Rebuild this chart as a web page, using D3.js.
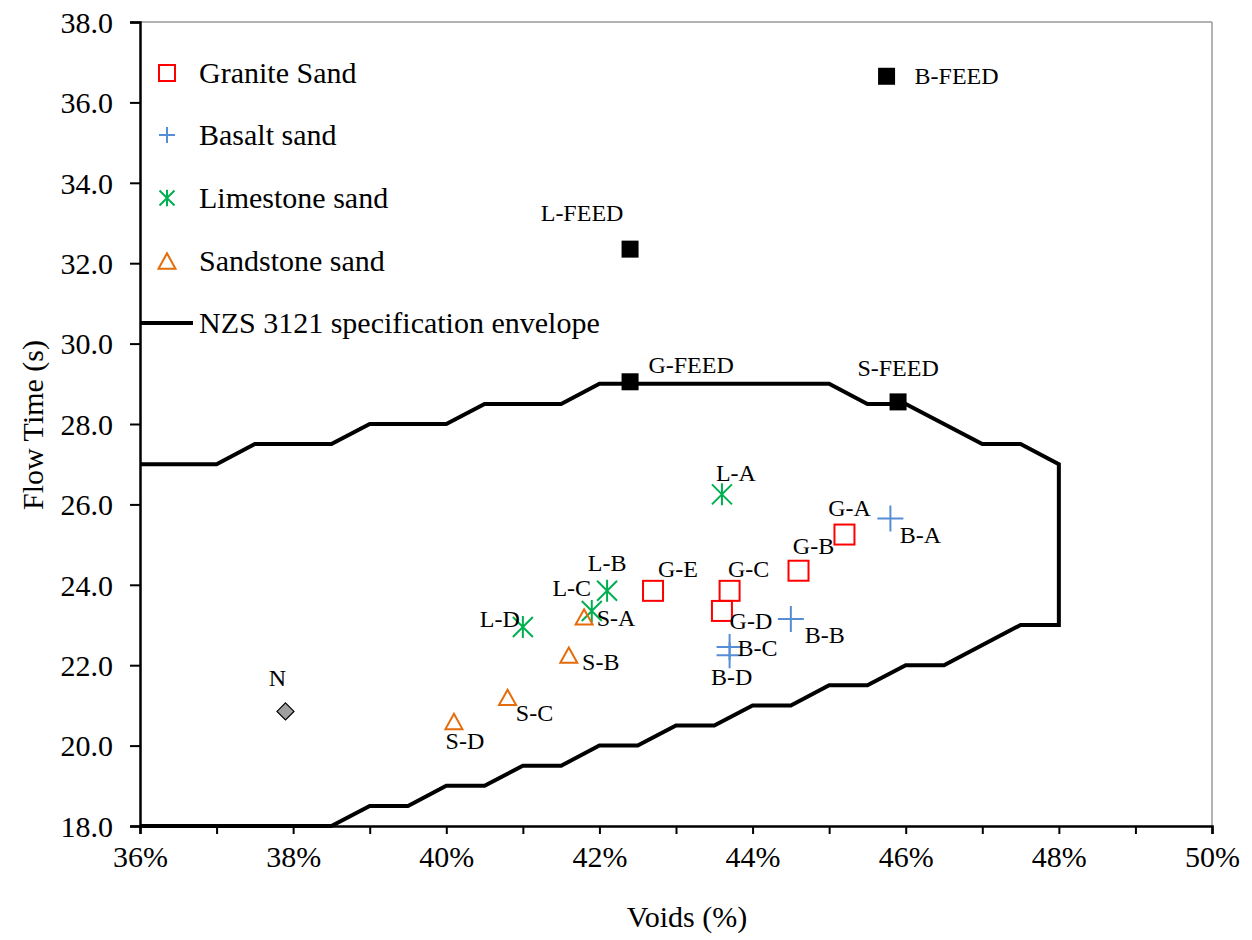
<!DOCTYPE html>
<html>
<head>
<meta charset="utf-8">
<title>Flow time vs voids</title>
<script src="https://cdnjs.cloudflare.com/ajax/libs/d3/7.8.5/d3.min.js"></script>
<style>
  body { margin: 0; background: #fff; }
  text { font-family: "Liberation Serif", "Times New Roman", serif; fill: #000; }
</style>
</head>
<body>
<div id="chart"></div>
<script>
// --- data ---
var graniteNames = ["G-A", "G-B", "G-C", "G-D", "G-E"];
var graniteVoids = [45.2, 44.6, 43.7, 43.6, 42.7];
var graniteFlow  = [25.25, 24.35, 23.85, 23.35, 23.85];

var basaltNames = ["B-A", "B-B", "B-C", "B-D"];
var basaltVoids = [45.8, 44.5, 43.7, 43.7];
var basaltFlow  = [25.65, 23.15, 22.45, 22.25];

var limeNames = ["L-A", "L-B", "L-C", "L-D"];
var limeVoids = [43.6, 42.1, 41.9, 41.0];
var limeFlow  = [26.25, 23.85, 23.35, 22.95];

var sandNames = ["S-A", "S-B", "S-C", "S-D"];
var sandVoids = [41.8, 41.6, 40.8, 40.1];
var sandFlow  = [23.2, 22.25, 21.2, 20.6];

var feedNames = ["L-FEED", "G-FEED", "S-FEED", "B-FEED"];
var feedVoids = [42.4, 42.4, 45.9, 45.75];
var feedFlow  = [32.35, 29.05, 28.55, 36.65];

var nNames = ["N"];
var nVoids = [37.9];
var nFlow  = [20.85];

// NZS 3121 envelope (upper edge then lower edge back)
var envVoids = [36, 37, 37.5, 38.5, 39, 40, 40.5, 41.5, 42, 45, 45.5, 46, 47, 47.5, 48,
                48, 47.5, 46.5, 46, 45.5, 45, 44.5, 44, 43.5, 43, 42.5, 42, 41.5, 41, 40.5, 40, 39.5, 39, 38.5, 36];
var envFlow  = [27, 27, 27.5, 27.5, 28, 28, 28.5, 28.5, 29, 29, 28.5, 28.5, 27.5, 27.5, 27,
                23, 23, 22, 22, 21.5, 21.5, 21, 21, 20.5, 20.5, 20, 20, 19.5, 19.5, 19, 19, 18.5, 18.5, 18, 18];

var xTicks = [36, 37, 38, 39, 40, 41, 42, 43, 44, 45, 46, 47, 48, 49, 50];
var xLabels = [36, 38, 40, 42, 44, 46, 48, 50];
var yTicks = [18, 20, 22, 24, 26, 28, 30, 32, 34, 36, 38];

// label offsets from marker (px) to label centre
var labelOff = {
  "G-A": [5, -27], "G-B": [15, -25], "G-C": [19, -22], "G-D": [29, 10], "G-E": [25, -22],
  "B-A": [30, 17], "B-B": [34, 16], "B-C": [28, 1], "B-D": [2, 22],
  "L-A": [14, -21], "L-B": [0, -28], "L-C": [-20, -23], "L-D": [-23, -8],
  "S-A": [32, 1], "S-B": [32, 7], "S-C": [27, 16], "S-D": [11, 20],
  "N": [-8, -33],
  "L-FEED": [-48, -36], "G-FEED": [61, -17], "S-FEED": [0, -34], "B-FEED": [70, 0]
};

var W = 1252, H = 940;
var mLeft = 140, mRight = 1212, mTop = 22, mBottom = 826;

var svg = d3.select("#chart").append("svg")
  .attr("width", W).attr("height", H);

var x = d3.scaleLinear().domain([36, 50]).range([mLeft, mRight]);
var y = d3.scaleLinear().domain([18, 38]).range([mBottom, mTop]);

// frame: top and right in grey
svg.append("line").attr("x1", mLeft).attr("x2", mRight).attr("y1", mTop).attr("y2", mTop)
  .attr("stroke", "#999").attr("stroke-width", 1.5);
svg.append("line").attr("x1", mRight).attr("x2", mRight).attr("y1", mTop).attr("y2", mBottom)
  .attr("stroke", "#999").attr("stroke-width", 1.5);

// x axis
var xAxis = d3.axisBottom(x).tickValues(xTicks).tickSize(8)
  .tickFormat(function(d) { return xLabels.indexOf(d) >= 0 ? d + "%" : ""; });
var gx = svg.append("g").attr("transform", "translate(0," + mBottom + ")").call(xAxis);
gx.select(".domain").attr("stroke", "#000").attr("stroke-width", 2.5);
gx.selectAll(".tick line").attr("stroke", "#000").attr("stroke-width", 2);
gx.selectAll(".tick text").attr("font-size", "30px").attr("font-family", "Liberation Serif").attr("dy", 0).attr("y", 41);

// y axis
var yAxis = d3.axisLeft(y).tickValues(yTicks).tickSize(10).tickFormat(d3.format(".1f"));
var gy = svg.append("g").attr("transform", "translate(" + mLeft + ",0)").call(yAxis);
gy.select(".domain").attr("stroke", "#000").attr("stroke-width", 2.5);
gy.selectAll(".tick line").attr("stroke", "#000").attr("stroke-width", 2);
gy.selectAll(".tick text").attr("font-size", "30px").attr("font-family", "Liberation Serif")
  .attr("x", -27).attr("dy", "0.34em");

// axis titles
svg.append("text").attr("x", 687).attr("y", 927).attr("text-anchor", "middle")
  .attr("font-size", "30px").text("Voids (%)");
svg.append("text").attr("transform", "translate(43,425) rotate(-90)").attr("text-anchor", "middle")
  .attr("font-size", "30px").text("Flow Time (s)");

// envelope
var env = envVoids.map(function(v, i) { return [v, envFlow[i]]; });
svg.append("path").datum(env)
  .attr("d", d3.line().x(function(d) { return x(d[0]); }).y(function(d) { return y(d[1]); }))
  .attr("fill", "none").attr("stroke", "#000").attr("stroke-width", 4).attr("stroke-linejoin", "miter");

function pts(names, vx, vy) {
  return names.map(function(n, i) { return { name: n, v: vx[i], f: vy[i] }; });
}

var granite = pts(graniteNames, graniteVoids, graniteFlow);
var basalt = pts(basaltNames, basaltVoids, basaltFlow);
var lime = pts(limeNames, limeVoids, limeFlow);
var sand = pts(sandNames, sandVoids, sandFlow);
var feed = pts(feedNames, feedVoids, feedFlow);
var nat = pts(nNames, nVoids, nFlow);

// marker drawers
function square(g, s, col) {
  g.append("rect").attr("x", -s / 2).attr("y", -s / 2).attr("width", s).attr("height", s)
    .attr("fill", "none").attr("stroke", col).attr("stroke-width", 2);
}
function plus(g, s, col) {
  g.append("path").attr("d", "M" + (-s / 2) + ",0H" + (s / 2) + "M0," + (-s / 2) + "V" + (s / 2))
    .attr("stroke", col).attr("stroke-width", 2).attr("fill", "none");
}
function star(g, s, col) {
  var a = s / 2;
  g.append("path").attr("d", "M" + (-a) + "," + (-a) + "L" + a + "," + a + "M" + (-a) + "," + a + "L" + a + "," + (-a) +
      "M0," + (-a * 1.1) + "V" + (a * 1.1))
    .attr("stroke", col).attr("stroke-width", 2).attr("fill", "none");
}
function tri(g, s, col) {
  var h = s * 0.9;
  g.append("path").attr("d", "M0," + (-h / 2) + "L" + (s / 2) + "," + (h / 2) + "L" + (-s / 2) + "," + (h / 2) + "Z")
    .attr("stroke", col).attr("stroke-width", 2).attr("fill", "none");
}
function solid(g, s) {
  g.append("rect").attr("x", -s / 2).attr("y", -s / 2).attr("width", s).attr("height", s)
    .attr("fill", "#000");
}
function diamond(g, s) {
  g.append("path").attr("d", "M0," + (-s / 2) + "L" + (s / 2) + ",0L0," + (s / 2) + "L" + (-s / 2) + ",0Z")
    .attr("fill", "#a0a0a0").attr("stroke", "#000").attr("stroke-width", 1.2);
}

function drawSeries(data, drawer) {
  var g = svg.append("g").selectAll("g").data(data).enter().append("g")
    .attr("transform", function(d) { return "translate(" + x(d.v) + "," + y(d.f) + ")"; });
  g.each(function() { drawer(d3.select(this)); });
  svg.append("g").selectAll("text").data(data).enter().append("text")
    .attr("x", function(d) { return x(d.v) + labelOff[d.name][0]; })
    .attr("y", function(d) { return y(d.f) + labelOff[d.name][1] + 8; })
    .attr("text-anchor", "middle").attr("font-size", "24px")
    .text(function(d) { return d.name; });
}

drawSeries(feed, function(g) { solid(g, 17); });
drawSeries(nat, function(g) { diamond(g, 17); });
drawSeries(granite, function(g) { square(g, 20, "#ff0000"); });
drawSeries(basalt, function(g) { plus(g, 26, "#558ed5"); });
drawSeries(lime, function(g) { star(g, 20, "#00b050"); });
drawSeries(sand, function(g) { tri(g, 17, "#e46c0a"); });

// legend
var legend = [
  { label: "Granite Sand", y: 73, draw: function(g) { square(g, 16, "#ff0000"); } },
  { label: "Basalt sand", y: 135, draw: function(g) { plus(g, 16, "#558ed5"); } },
  { label: "Limestone sand", y: 198, draw: function(g) { star(g, 15, "#00b050"); } },
  { label: "Sandstone sand", y: 261, draw: function(g) { tri(g, 17, "#e46c0a"); } },
  { label: "NZS 3121 specification envelope", y: 323, draw: function(g) {
      g.append("line").attr("x1", -26).attr("x2", 26).attr("stroke", "#000").attr("stroke-width", 4);
  } }
];
legend.forEach(function(l) {
  var g = svg.append("g").attr("transform", "translate(167," + l.y + ")");
  l.draw(g);
  svg.append("text").attr("x", 199).attr("y", l.y + 10).attr("font-size", "30px").text(l.label);
});
</script>
</body>
</html>
